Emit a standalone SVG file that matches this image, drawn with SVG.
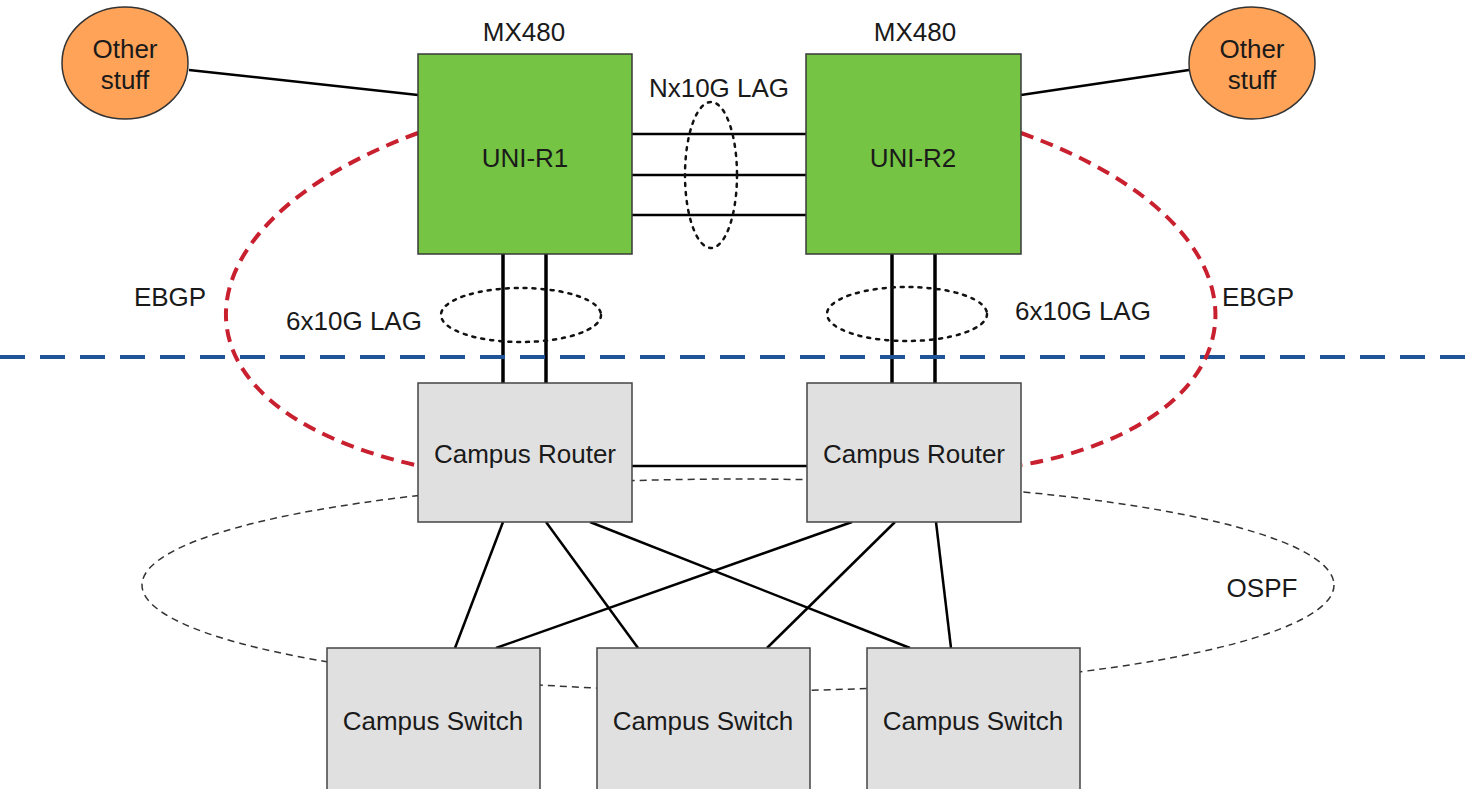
<svg xmlns="http://www.w3.org/2000/svg" width="1466" height="789" viewBox="0 0 1466 789">
<style>
text{font-family:"Liberation Sans",Arial,sans-serif;font-size:26px;fill:#1a1a1a;text-anchor:middle}
.other{fill:#FFA358;stroke:#333;stroke-width:1.5}
.uni{fill:#76C443;stroke:#3a3a3a;stroke-width:1.5}
.box{fill:#E0E0E0;stroke:#444;stroke-width:1.5}
.link{stroke:#000;stroke-width:2.5;fill:none}
.thick{stroke:#000;stroke-width:3.5;fill:none}
.ebgp{stroke:#C8202F;stroke-width:4;stroke-dasharray:13 8;fill:none}
.lag{stroke:#111;stroke-width:2.5;stroke-dasharray:3 6;fill:none;stroke-linecap:round}
.ospf{stroke:#333;stroke-width:1.5;stroke-dasharray:7 5;fill:none}
.border{stroke:#1F5597;stroke-width:4;stroke-dasharray:25 15;fill:none}
</style>
<rect width="1466" height="789" fill="#fff"/>
<g id="areas">
<ellipse class="ospf" cx="738" cy="585" rx="596" ry="106"/>
<text x="1262" y="597">OSPF</text>
</g>
<g id="connectors">
<line class="link" x1="189" y1="70" x2="418" y2="95"/>
<line class="link" x1="1021" y1="95" x2="1189" y2="70"/>
<line class="link" x1="632" y1="134" x2="806" y2="134"/>
<line class="link" x1="632" y1="175" x2="806" y2="175"/>
<line class="link" x1="632" y1="215" x2="806" y2="215"/>
<line class="thick" x1="503" y1="254" x2="503" y2="383"/>
<line class="thick" x1="546" y1="254" x2="546" y2="383"/>
<line class="thick" x1="892" y1="254" x2="892" y2="383"/>
<line class="thick" x1="935" y1="254" x2="935" y2="383"/>
<line class="link" x1="632" y1="466" x2="807" y2="466"/>
<line class="link" x1="503" y1="522" x2="455" y2="648"/>
<line class="link" x1="546" y1="522" x2="638" y2="648"/>
<line class="link" x1="590" y1="522" x2="910" y2="648"/>
<line class="link" x1="852" y1="522" x2="496" y2="648"/>
<line class="link" x1="895" y1="522" x2="767" y2="648"/>
<line class="link" x1="936" y1="522" x2="951" y2="648"/>
</g>
<g id="lag-groups">
<ellipse class="lag" cx="711" cy="175" rx="26" ry="73"/>
<text x="719" y="97">Nx10G LAG</text>
<ellipse class="lag" cx="521" cy="315" rx="80" ry="27"/>
<text x="354" y="330">6x10G LAG</text>
<ellipse class="lag" cx="907" cy="314" rx="80" ry="27"/>
<text x="1083" y="320">6x10G LAG</text>
</g>
<g id="boundary">
<line class="border" x1="0" y1="357" x2="1466" y2="357"/>
</g>
<g id="ebgp">
<path class="ebgp" d="M418,133 C170,225 155,405 415,465"/>
<path class="ebgp" d="M1021,133 C1290,230 1270,420 1022,465"/>
<text x="170" y="306">EBGP</text>
<text x="1258" y="306">EBGP</text>
</g>
<g id="other-left">
<ellipse class="other" cx="125" cy="63" rx="63" ry="56"/>
<text x="125" y="58">Other</text>
<text x="125" y="89">stuff</text>
</g>
<g id="other-right">
<ellipse class="other" cx="1252" cy="63" rx="63" ry="56"/>
<text x="1252" y="58">Other</text>
<text x="1252" y="89">stuff</text>
</g>
<g id="uni-r1">
<text x="524" y="41">MX480</text>
<rect class="uni" x="418" y="54" width="214" height="200"/>
<text x="525" y="167">UNI-R1</text>
</g>
<g id="uni-r2">
<text x="915" y="41">MX480</text>
<rect class="uni" x="806" y="54" width="215" height="200"/>
<text x="913" y="167">UNI-R2</text>
</g>
<g id="router-left">
<rect class="box" x="418" y="383" width="214" height="139"/>
<text x="525" y="463">Campus Router</text>
</g>
<g id="router-right">
<rect class="box" x="807" y="383" width="214" height="139"/>
<text x="914" y="463">Campus Router</text>
</g>
<g id="switch-1">
<rect class="box" x="327" y="648" width="213" height="160"/>
<text x="433" y="730">Campus Switch</text>
</g>
<g id="switch-2">
<rect class="box" x="597" y="648" width="213" height="160"/>
<text x="703" y="730">Campus Switch</text>
</g>
<g id="switch-3">
<rect class="box" x="867" y="648" width="213" height="160"/>
<text x="973" y="730">Campus Switch</text>
</g>
</svg>
